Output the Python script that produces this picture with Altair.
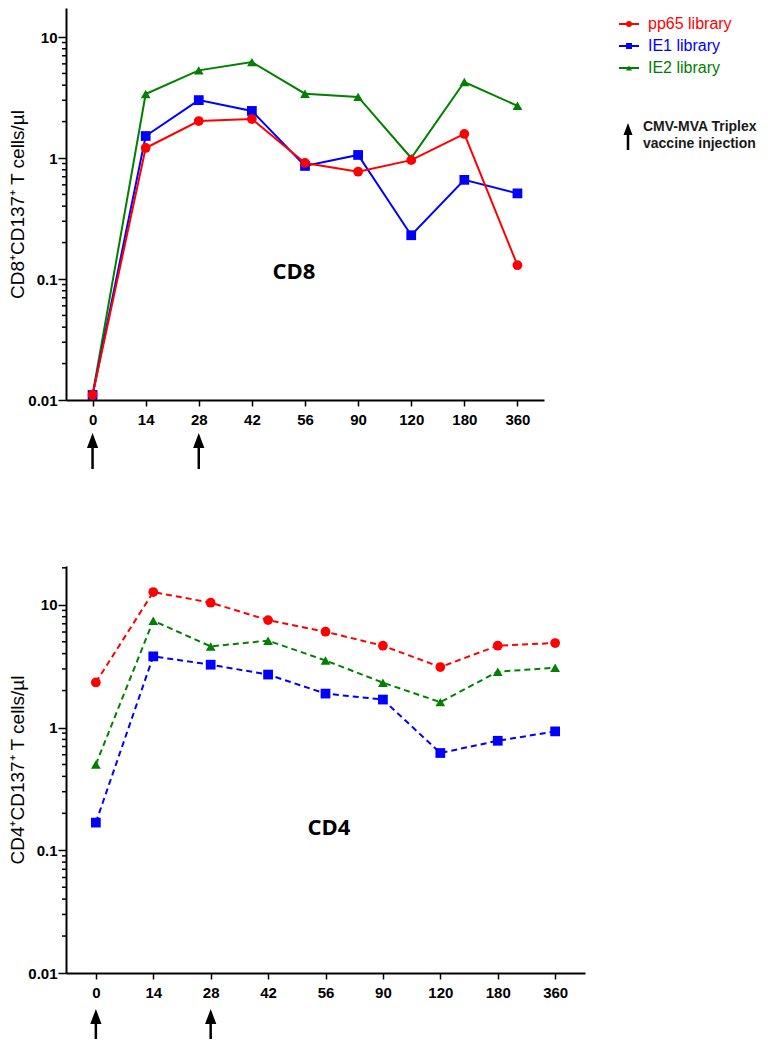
import altair as alt
import pandas as pd

# ---- data ----
days = ["0", "14", "28", "42", "56", "90", "120", "180", "360"]
series = ["pp65 library", "IE1 library", "IE2 library"]
colors = ["#ff0000", "#0000ff", "#008000"]
shapes = ["circle", "square", "triangle-up"]

cd8_pp65 = [0.011, 1.21, 2.02, 2.10, 0.91, 0.77, 0.96, 1.58, 0.13]
cd8_ie1 = [0.011, 1.52, 3.01, 2.45, 0.86, 1.06, 0.23, 0.66, 0.51]
cd8_ie2 = [0.011, 3.38, 5.30, 6.20, 3.40, 3.20, 1.00, 4.25, 2.70]

cd4_pp65 = [2.33, 12.7, 10.4, 7.5, 6.03, 4.64, 3.11, 4.64, 4.88]
cd4_ie1 = [0.168, 3.80, 3.25, 2.70, 1.89, 1.69, 0.62, 0.78, 0.93]
cd4_ie2 = [0.50, 7.42, 4.58, 5.10, 3.52, 2.32, 1.61, 2.85, 3.07]

injection_days = ["0", "28"]
major_ticks = [0.01, 0.1, 1, 10]
minor_ticks = [m * d for d in [0.01, 0.1, 1, 10] for m in range(2, 10)]

FONT = "Liberation Sans"


def long_df(pp65, ie1, ie2):
    rows = []
    # draw order: IE2, IE1, pp65 (pp65 on top)
    for name, vals in [("IE2 library", ie2), ("IE1 library", ie1), ("pp65 library", pp65)]:
        for d, v in zip(days, vals):
            rows.append({"day": d, "value": v, "series": name})
    return pd.DataFrame(rows)


def panel(df, ytitle, ytop, width, height, xpad, dash, label, label_xy,
          arrow_y, legend=False):
    x = alt.X("day:O", sort=days,
              scale=alt.Scale(type="point", domain=days, padding=xpad),
              axis=alt.Axis(title=None, labelAngle=0, tickSize=6,
                            labelPadding=6))
    y = alt.Y("value:Q",
              scale=alt.Scale(type="log", domain=[0.01, ytop], nice=False),
              axis=alt.Axis(values=major_ticks, format="~g", title=ytitle,
                            tickSize=8, labelPadding=1, titlePadding=0,
                            titleFont=FONT, titleFontSize=19,
                            titleFontWeight="normal", titleColor="black"))
    color = alt.Color("series:N",
                      scale=alt.Scale(domain=series, range=colors), legend=None)
    shape = alt.Shape("series:N",
                      scale=alt.Scale(domain=series, range=shapes), legend=None)

    base = alt.Chart(df)
    line_kw = dict(strokeWidth=2)
    if dash:
        line_kw["strokeDash"] = dash
    lines = base.mark_line(**line_kw).encode(x=x, y=y, color=color,
                                             detail="series:N")
    pts = base.mark_point(filled=True, opacity=1, size=95).encode(
        x=x, y=y, color=color, shape=shape)

    minor_vals = [v for v in minor_ticks if v <= ytop]
    minor = alt.Chart(pd.DataFrame({"v": minor_vals})).mark_rule(
        color="black", strokeWidth=1.5).encode(
        y=alt.Y("v:Q"), x=alt.value(-4), x2=alt.value(0))

    lab = alt.Chart(pd.DataFrame({"t": [label]})).mark_text(
        font="Open Sans", fontWeight="bold", fontSize=22, color="black",
        align="center", baseline="middle").encode(
        text="t:N", x=alt.value(label_xy[0]), y=alt.value(label_xy[1]))

    adf = pd.DataFrame({"day": injection_days})
    arrow_path = "M0,-1L0.75,1L-0.75,1Z"
    tip, base_y, end = arrow_y
    a_head = alt.Chart(adf).mark_point(
        shape=arrow_path, filled=True, opacity=1, color="black", size=225
    ).encode(x=x, y=alt.value(tip + 7.5))
    a_shaft = alt.Chart(adf).mark_rule(color="black", strokeWidth=2.5).encode(
        x=x, y=alt.value(base_y), y2=alt.value(end))

    layers = [lines, pts, minor, lab, a_shaft, a_head]

    if legend:
        ly = [16, 38, 60]
        for i, name in enumerate(series):
            one = pd.DataFrame({"t": [name]})
            layers.append(alt.Chart(one).mark_rule(
                color=colors[i], strokeWidth=2).encode(
                x=alt.value(553), x2=alt.value(573), y=alt.value(ly[i])))
            layers.append(alt.Chart(one).mark_point(
                shape=shapes[i], filled=True, opacity=1, color=colors[i],
                size=36).encode(x=alt.value(563), y=alt.value(ly[i])))
            layers.append(alt.Chart(one).mark_text(
                font=FONT, fontSize=16, color=colors[i], align="left",
                baseline="middle").encode(
                text="t:N", x=alt.value(582), y=alt.value(ly[i])))
        note = pd.DataFrame({"t": ["CMV-MVA Triplex\nvaccine injection"]})
        layers.append(alt.Chart(note).mark_text(
            font=FONT, fontSize=14, fontWeight="bold", color="#1a1a1a",
            align="left", baseline="top", lineBreak="\n", lineHeight=17
        ).encode(text="t:N", x=alt.value(577), y=alt.value(112)))
        layers.append(alt.Chart(note).mark_point(
            shape=arrow_path, filled=True, opacity=1, color="black", size=144
        ).encode(x=alt.value(562), y=alt.value(121)))
        layers.append(alt.Chart(note).mark_rule(
            color="black", strokeWidth=2.5).encode(
            x=alt.value(562), y=alt.value(126), y2=alt.value(142)))

    return alt.layer(*layers).properties(width=width, height=height)


top = panel(long_df(cd8_pp65, cd8_ie1, cd8_ie2),
            "CD8⁺CD137⁺ T cells/µl", 17.37, 478, 392, 0.5, None,
            "CD8", (228, 264), (425, 440, 461), legend=True)
bottom = panel(long_df(cd4_pp65, cd4_ie1, cd4_ie2),
               "CD4⁺CD137⁺ T cells/µl", 20.7, 519, 407, 0.52, [6, 4],
               "CD4", (263, 262), (443, 458, 473))

chart = alt.vconcat(top, bottom, spacing=95).properties(
    padding=0
).configure_view(stroke=None).configure_axis(
    grid=False, domainColor="black", domainWidth=2, tickColor="black",
    tickWidth=1.5, labelFont=FONT, labelFontWeight="bold", labelFontSize=15,
    labelColor="black"
)

chart.save("out.html", embed_options={"renderer": "svg", "actions": False})
